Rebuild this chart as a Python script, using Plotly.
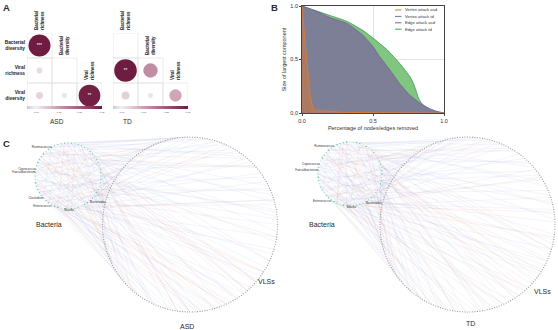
import numpy as np
import plotly.graph_objects as go

W, H = 558, 330
FONT = "Liberation Sans"


def fx(p):
    return p / W


def fy(p):
    return 1 - p / H


# ---------------- Panel A data ----------------
row_labels = ["Bacterial diversity", "Viral richness", "Viral diversity"]
col_labels = ["Bacterial richness", "Bacterial diversity", "Viral richness"]
asd_corr = [[0.35, None, None],
            [0.025, None, None],
            [0.035, -0.018, 0.34]]
asd_sig = [["***", "", ""], ["", "", ""], ["", "", "**"]]
td_corr = [[None, None, None],
           [0.37, 0.15, None],
           [0.045, -0.018, 0.11]]
td_sig = [["", "", ""], ["**", "", ""], ["", "", ""]]
asd_cbar_ticks = [0.0, 0.12, 0.23, 0.35]
td_cbar_ticks = [0.0, 0.12, 0.25, 0.37]

# ---------------- Panel B data ----------------
edge_td_x = [0, 0.1, 0.2, 0.32, 0.43, 0.5, 0.6, 0.69, 0.76, 0.78, 0.8, 0.82, 0.84, 0.86, 0.88, 0.9, 0.95, 1.0]
edge_td_y = [1, 0.955, 0.91, 0.855, 0.77, 0.70, 0.59, 0.46, 0.34, 0.29, 0.22, 0.14, 0.095, 0.065, 0.045, 0.03, 0.012, 0]
edge_asd_x = [0, 0.1, 0.2, 0.32, 0.43, 0.5, 0.545, 0.62, 0.69, 0.76, 0.83, 0.9, 0.95, 1.0]
edge_asd_y = [1, 0.95, 0.89, 0.835, 0.726, 0.62, 0.53, 0.40, 0.27, 0.165, 0.093, 0.04, 0.015, 0]
vertex_asd_x = [0, 0.015, 0.03, 0.045, 0.06, 0.075, 0.09, 0.12, 0.2, 0.25, 0.3, 0.5, 1.0]
vertex_asd_y = [1, 0.78, 0.55, 0.33, 0.15, 0.06, 0.03, 0.022, 0.016, 0.01, 0.006, 0.003, 0]
vertex_td_x = [0, 0.012, 0.025, 0.038, 0.05, 0.057]
vertex_td_y = [1, 0.8, 0.57, 0.33, 0.1, 0]
series_names = ["Vertex attack asd", "Vertex attack td", "Edge attack asd", "Edge attack td"]

# ---------------- Panel C data ----------------
NB, NV = 60, 220
asd_genera = {"Ruminococcus": 5, "Coprococcus": 13, "Faecalibacterium": 14, "Clostridium": 22,
              "Enterococcus": 25, "Blautia": 29, "Bacteroides": 37}
td_genera = {"Ruminococcus": 5, "Coprococcus": 12, "Faecalibacterium": 14,
             "Enterococcus": 24, "Blautia": 29, "Bacteroides": 35}
asd_pos = [[0,55],[0,140],[1,62],[1,190],[2,48],[2,101],[3,70],[3,165],[4,33],[4,118],[5,58],[5,205],[6,84],[6,150],
           [7,12],[7,97],[8,66],[8,178],[9,40],[9,130],[10,110],[10,196],[11,25],[11,143],[12,75],[12,160],[13,5],
           [13,122],[14,90],[14,186],[15,44],[15,135],[16,2],[16,170],[17,60],[17,115],[18,20],[18,155],[19,80],
           [19,200],[20,35],[20,125],[21,68],[21,175],[22,15],[22,145],[23,52],[23,188],[24,98],[24,168],[25,28],
           [25,182],[26,8],[26,158],[27,72],[27,192],[28,45],[28,176],[29,18],[29,163],[30,88],[30,210],[31,38],
           [31,152],[32,105],[32,215],[33,10],[33,138],[34,64],[34,198],[35,30],[35,172],[36,92],[36,208],[37,0],
           [37,128],[38,50],[38,185],[39,22],[39,112],[40,78],[40,165],[41,14],[41,148],[42,57],[42,202],[43,6],
           [43,132],[44,86],[44,180],[45,42],[45,160],[46,100],[46,213],[47,26],[47,120],[48,67],[48,195],[49,3],
           [49,142],[50,82],[50,178],[51,36],[51,156],[52,95],[52,205],[53,16],[53,126],[54,74],[54,190],[55,47],
           [55,168],[56,108],[56,217],[57,31],[57,136],[58,60],[58,184],[59,9],[59,150]]
asd_neg = [[2,130],[5,175],[8,30],[11,200],[14,60],[17,150],[20,185],[23,95],[26,170],[29,40],[32,180],[35,120],
           [38,200],[41,70],[44,165],[47,188],[50,25],[53,160],[56,140],[59,190],[4,100],[12,215],[19,180],[27,130],
           [36,175],[45,85],[52,195],[9,165],[31,10],[40,195]]
asd_bb_pos = [[0,30],[3,41],[5,22],[8,47],[10,35],[13,52],[15,38],[18,55],[21,44],[24,2],[27,50],[33,7],[36,12],
              [40,16],[43,20],[46,25],[49,29],[57,14]]
asd_bb_neg = [[1,27],[6,39],[11,45],[17,33],[26,53],[31,58],[37,9]]
td_pos = [[0,72],[0,160],[1,40],[1,185],[2,95],[2,210],[3,18],[3,132],[4,66],[4,174],[5,8],[5,121],[6,88],[6,196],
          [7,50],[7,140],[8,27],[8,163],[9,104],[9,206],[10,12],[10,150],[11,77],[11,189],[12,36],[12,128],[13,93],
          [13,170],[14,4],[14,145],[15,61],[15,201],[16,23],[16,117],[17,85],[17,180],[18,44],[18,158],[19,110],
          [19,214],[20,30],[20,137],[21,70],[21,192],[22,1],[22,124],[23,56],[23,168],[24,99],[24,205],[25,19],
          [25,146],[26,81],[26,183],[27,39],[27,113],[28,64],[28,199],[29,11],[29,154],[30,90],[30,176],[31,48],
          [31,210],[32,24],[32,134],[33,75],[33,187],[34,6],[34,162],[35,58],[35,119],[36,102],[36,203],[37,33],
          [37,141],[38,69],[38,178],[39,14],[39,156],[40,87],[40,194],[41,42],[41,127],[42,97],[42,216],[43,21],
          [43,148],[44,63],[44,182],[45,9],[45,139],[46,79],[46,171],[47,52],[47,208],[48,107],[48,186],[49,28],
          [49,131],[50,71],[50,164],[51,2],[51,153],[52,91],[52,197],[53,37],[53,123],[54,83],[54,179],[55,16],
          [55,144],[56,59],[56,212],[57,100],[57,173],[58,46],[58,135],[59,25],[59,191]]
td_neg = [[1,120],[4,190],[7,35],[10,205],[13,75],[16,165],[19,140],[22,95],[25,180],[28,20],[31,150],[34,200],
          [37,60],[40,175],[43,115],[46,195],[49,45],[52,170],[55,130],[58,210],[3,155],[15,100],[24,190],[33,215],
          [42,160],[50,80],[57,185],[6,145],[30,5],[45,200]]
td_bb_pos = [[1,29],[4,38],[7,20],[9,46],[12,34],[14,51],[17,40],[20,56],[23,43],[26,3],[28,49],[32,8],[35,11],
             [39,15],[42,19],[45,24],[48,30],[55,13]]
td_bb_neg = [[2,26],[5,37],[10,44],[16,31],[25,52],[30,57],[36,8]]

# ---------------- styles ----------------
CS = [[0, '#c2cce8'], [0.11, '#f4f0f2'], [0.45, '#c493a8'], [1, '#6e1c40']]
C_ORANGE, C_BLUE, C_PURPLE, C_GREEN = '#e07b32', '#5b7fa8', '#7b5ea7', '#3fa34d'
LAV = 'rgba(140,150,215,0.2)'
SAL = 'rgba(230,140,100,0.24)'
TEAL = '#5cb8b2'

fig = go.Figure()
shapes, annotations = [], []


def corr_panel(corr, sig, xa, ya, cmax, ticks, x0px):
    xs, ys, vs, ts = [], [], [], []
    for r, row in enumerate(corr):
        for c, v in enumerate(row):
            if v is None:
                continue
            xs.append(c + 1); ys.append(r + 1); vs.append(v); ts.append(sig[r][c])
    vs = np.array(vs)
    sizes = 22 * np.sqrt(np.abs(vs) / 0.35)
    fig.add_trace(go.Scatter(
        x=xs, y=ys, mode='markers+text', text=ts, textposition='middle center',
        textfont=dict(size=4.5, color='white', family=FONT),
        marker=dict(size=sizes, color=vs, colorscale=CS, cmin=-0.05, cmax=cmax, line=dict(width=0),
                    opacity=1, showscale=True,
                    colorbar=dict(orientation='h', x=fx(x0px), xanchor='left', y=fy(109.5), yanchor='middle',
                                  len=75, lenmode='pixels', thickness=2.5, outlinewidth=0, xpad=0, ypad=0,
                                  tickvals=ticks, ticktext=[f"{t:.2f}" for t in ticks], ticks='',
                                  tickfont=dict(size=2.5, color='#555', family=FONT))),
        xaxis=xa, yaxis=ya, showlegend=False, hoverinfo='skip'))
    for r in range(3):
        for c in range(r + 1):
            shapes.append(dict(type='rect', xref=xa, yref=ya, x0=c + 0.5, x1=c + 1.5, y0=r + 0.5, y1=r + 1.5,
                               line=dict(color='#dedede', width=0.6), layer='below'))
    for i, lab in enumerate(col_labels):
        w = lab.split(' ')
        annotations.append(dict(xref=xa, yref=ya, x=i + 1, y=i + 0.5, text=f"<b>{w[0]}<br>{w[1]}</b>",
                                textangle=-90, showarrow=False, xanchor='center', yanchor='bottom', align='left',
                                yshift=1, font=dict(size=4.5, color='#222222', family=FONT)))


corr_panel(asd_corr, asd_sig, 'x', 'y', 0.35, asd_cbar_ticks, 27)
corr_panel(td_corr, td_sig, 'x2', 'y2', 0.37, td_cbar_ticks, 113)

# ---------------- Panel B ----------------
curves = [(edge_td_x, edge_td_y, C_GREEN, 'rgb(128,198,128)'),
          (edge_asd_x, edge_asd_y, C_PURPLE, 'rgb(124,127,150)'),
          (vertex_td_x, vertex_td_y, C_BLUE, 'rgba(95,125,165,0.5)'),
          (vertex_asd_x, vertex_asd_y, C_ORANGE, 'rgba(214,120,60,0.6)')]
for xs, ys, lc, fc in curves:
    fig.add_trace(go.Scatter(x=xs, y=ys, mode='lines', fill='tozeroy', fillcolor=fc,
                             line=dict(color=lc, width=0.9, shape='spline', smoothing=0.4),
                             xaxis='x3', yaxis='y3', showlegend=False, hoverinfo='skip'))

leg_colors = [C_ORANGE, C_BLUE, C_PURPLE, C_GREEN]
for i, (nm, col) in enumerate(zip(series_names, leg_colors)):
    yy = 10 + 6.4 * i
    shapes.append(dict(type='line', xref='paper', yref='paper', x0=fx(395), x1=fx(401.5), y0=fy(yy), y1=fy(yy),
                       line=dict(color=col, width=1)))
    annotations.append(dict(xref='paper', yref='paper', x=fx(403), y=fy(yy), text=nm, showarrow=False,
                            xanchor='left', yanchor='middle', font=dict(size=4.2, color='#333333', family=FONT)))

# ---------------- Panel C ----------------


def network(bc, br, vc, vr, pos, neg, bb_pos, bb_neg, genera):
    ab = np.deg2rad(90 + 360 * np.arange(NB) / NB)
    bx, by = bc[0] + br * np.cos(ab), bc[1] - br * np.sin(ab)
    av = np.deg2rad(360 * np.arange(NV) / NV)
    vx, vy = vc[0] + vr * np.cos(av), vc[1] - vr * np.sin(av)

    def segs(pairs, x2, y2):
        xs, ys = [], []
        for a, b in pairs:
            xs += [bx[a], x2[b], None]
            ys += [by[a], y2[b], None]
        return xs, ys

    for pairs, tx, ty, col in [(pos, vx, vy, LAV), (neg, vx, vy, SAL), (bb_pos, bx, by, LAV), (bb_neg, bx, by, SAL)]:
        xs, ys = segs(pairs, tx, ty)
        fig.add_trace(go.Scatter(x=xs, y=ys, mode='lines', line=dict(color=col, width=0.5),
                                 xaxis='x4', yaxis='y4', showlegend=False, hoverinfo='skip'))
    deg = np.zeros(NB)
    for pairs in (pos, neg, bb_pos, bb_neg):
        for p in pairs:
            deg[p[0]] += 1
    fig.add_trace(go.Scatter(x=vx, y=vy, mode='markers', marker=dict(size=1.2, color='#999999'),
                             xaxis='x4', yaxis='y4', showlegend=False, hoverinfo='skip'))
    fig.add_trace(go.Scatter(x=bx, y=by, mode='markers', marker=dict(size=1.0 + 0.45 * deg, color=TEAL),
                             xaxis='x4', yaxis='y4', showlegend=False, hoverinfo='skip'))
    lx, ly, lt, lp = [], [], [], []
    for name, k in genera.items():
        a = ab[k]
        if np.sin(a) > 0 or np.cos(a) < -0.7:
            tp = 'middle left'
        elif np.cos(a) < -0.3:
            tp = 'bottom left'
        else:
            tp = 'bottom right'
        lx.append(bx[k]); ly.append(by[k]); lt.append(name); lp.append(tp)
    fig.add_trace(go.Scatter(x=lx, y=ly, mode='text', text=lt, textposition=lp,
                             textfont=dict(size=3, color='#333333', family=FONT),
                             xaxis='x4', yaxis='y4', showlegend=False, hoverinfo='skip'))


network((68, 176), 33, (190, 224.5), 87.5, asd_pos, asd_neg, asd_bb_pos, asd_bb_neg, asd_genera)
network((350, 174), 32, (467.5, 224.5), 87.5, td_pos, td_neg, td_bb_pos, td_bb_neg, td_genera)


# ---------------- text labels ----------------
def txt(x, y, s, size, bold=False):
    annotations.append(dict(xref='paper', yref='paper', x=fx(x), y=fy(y), text=f"<b>{s}</b>" if bold else s,
                            showarrow=False, xanchor='center', yanchor='middle',
                            font=dict(size=size, color='#2a2a2a', family=FONT)))


txt(6, 7, "A", 9.5, True)
txt(274, 7, "B", 9.5, True)
txt(6, 143, "C", 9.5, True)
txt(57, 121.5, "ASD", 6.5)
txt(127.5, 121.5, "TD", 6.5)
txt(48.5, 224, "Bacteria", 7)
txt(321.5, 224, "Bacteria", 7)
txt(266, 281, "VLSs", 7)
txt(542, 291, "VLSs", 7)
txt(187, 326, "ASD", 7)
txt(470, 323, "TD", 7)

hidden = dict(visible=False, showgrid=False, zeroline=False, fixedrange=True)
row_ticktext = [f"<b>{l.split(' ')[0]}<br>{l.split(' ')[1]}</b>" for l in row_labels]
ax_b = dict(range=[0, 1], tickvals=[0, 0.5, 1], ticktext=["0.0", "0.5", "1.0"], showline=True, mirror=True,
            linecolor='#444444', linewidth=0.8, ticks='outside', ticklen=2, tickwidth=0.6, tickcolor='#444444',
            showgrid=True, gridcolor='#e3e3e3', gridwidth=0.6, zeroline=False, fixedrange=True,
            tickfont=dict(size=5.5, color='#333333', family=FONT))

TOP_C = 132
fig.update_layout(
    width=W, height=H, margin=dict(l=0, r=0, t=0, b=0), template='none',
    paper_bgcolor='white', plot_bgcolor='rgba(0,0,0,0)', font=dict(family=FONT, color='#2a2a2a'),
    showlegend=False,
    xaxis=dict(domain=[fx(27), fx(102)], range=[0.5, 3.5], anchor='y', **hidden),
    yaxis=dict(domain=[fy(108), fy(33)], range=[3.5, 0.5], anchor='x', tickvals=[1, 2, 3], ticktext=row_ticktext,
               showgrid=False, zeroline=False, showline=False, ticks='', ticklabelstandoff=1, fixedrange=True,
               tickfont=dict(size=4.8, color='#222222', family=FONT)),
    xaxis2=dict(domain=[fx(113), fx(188)], range=[0.5, 3.5], anchor='y2', **hidden),
    yaxis2=dict(domain=[fy(108), fy(33)], range=[3.5, 0.5], anchor='x2', **hidden),
    xaxis3=dict(domain=[fx(302), fx(444)], anchor='y3',
                title=dict(text="Percentage of nodes/edges removed", standoff=3,
                           font=dict(size=5.5, color='#333333', family=FONT)), **ax_b),
    yaxis3=dict(domain=[fy(113), fy(6)], anchor='x3',
                title=dict(text="Size of largest component", standoff=3,
                           font=dict(size=5.5, color='#333333', family=FONT)), **ax_b),
    xaxis4=dict(domain=[0, 1], range=[0, W], anchor='y4', **hidden),
    yaxis4=dict(domain=[0, fy(TOP_C)], range=[H, TOP_C], anchor='x4', **hidden),
    shapes=shapes, annotations=annotations,
)

fig.write_html("out.html")
